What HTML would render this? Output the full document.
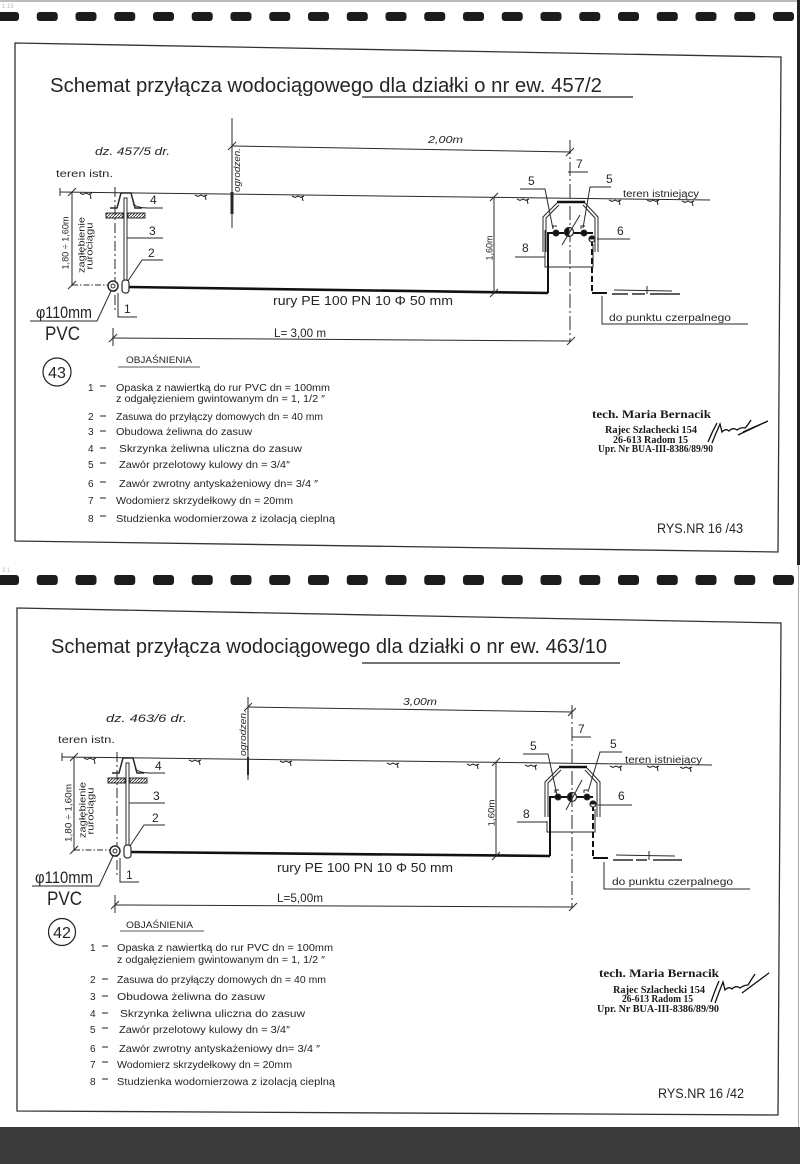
<!DOCTYPE html>
<html><head><meta charset="utf-8">
<style>
html,body{margin:0;padding:0;background:#fff;}
svg{display:block;}
text{font-family:"Liberation Sans",sans-serif;fill:#252525;}
.it{font-style:italic;}
.sf{font-family:"Liberation Serif",serif;font-weight:bold;fill:#1a1a1a;}
</style></head><body>
<svg width="800" height="1164" viewBox="0 0 800 1164" xmlns="http://www.w3.org/2000/svg">
<defs>
<pattern id="h" width="3" height="3" patternUnits="userSpaceOnUse"><path d="M0,3 L3,0" stroke="#222" stroke-width="0.8"/></pattern>
</defs>
<rect width="800" height="1164" fill="#fff"/>
<rect x="0" y="0" width="800" height="2" fill="#bbb"/>
<rect x="797" y="0" width="3" height="565" fill="#222"/>
<rect x="798" y="565" width="1" height="562" fill="#aaa"/>
<rect x="0" y="1127" width="800" height="37" fill="#3a3a3a"/>
<text x="2" y="8" font-size="6" fill="#bbb" style="fill:#bbb">1.15</text>
<text x="2" y="572" font-size="6" style="fill:#bbb">3.1</text>

<!-- dash rows -->
<g fill="#1c1c1c">
<rect x="-2" y="12" width="21" height="9" rx="3"/><rect x="36.75" y="12" width="21" height="9" rx="3"/><rect x="75.5" y="12" width="21" height="9" rx="3"/><rect x="114.25" y="12" width="21" height="9" rx="3"/><rect x="153" y="12" width="21" height="9" rx="3"/><rect x="191.75" y="12" width="21" height="9" rx="3"/><rect x="230.5" y="12" width="21" height="9" rx="3"/><rect x="269.25" y="12" width="21" height="9" rx="3"/><rect x="308" y="12" width="21" height="9" rx="3"/><rect x="346.75" y="12" width="21" height="9" rx="3"/><rect x="385.5" y="12" width="21" height="9" rx="3"/><rect x="424.25" y="12" width="21" height="9" rx="3"/><rect x="463" y="12" width="21" height="9" rx="3"/><rect x="501.75" y="12" width="21" height="9" rx="3"/><rect x="540.5" y="12" width="21" height="9" rx="3"/><rect x="579.25" y="12" width="21" height="9" rx="3"/><rect x="618" y="12" width="21" height="9" rx="3"/><rect x="656.75" y="12" width="21" height="9" rx="3"/><rect x="695.5" y="12" width="21" height="9" rx="3"/><rect x="734.25" y="12" width="21" height="9" rx="3"/><rect x="773" y="12" width="21" height="9" rx="3"/>
<rect x="-2" y="575" width="21" height="10" rx="3"/><rect x="36.75" y="575" width="21" height="10" rx="3"/><rect x="75.5" y="575" width="21" height="10" rx="3"/><rect x="114.25" y="575" width="21" height="10" rx="3"/><rect x="153" y="575" width="21" height="10" rx="3"/><rect x="191.75" y="575" width="21" height="10" rx="3"/><rect x="230.5" y="575" width="21" height="10" rx="3"/><rect x="269.25" y="575" width="21" height="10" rx="3"/><rect x="308" y="575" width="21" height="10" rx="3"/><rect x="346.75" y="575" width="21" height="10" rx="3"/><rect x="385.5" y="575" width="21" height="10" rx="3"/><rect x="424.25" y="575" width="21" height="10" rx="3"/><rect x="463" y="575" width="21" height="10" rx="3"/><rect x="501.75" y="575" width="21" height="10" rx="3"/><rect x="540.5" y="575" width="21" height="10" rx="3"/><rect x="579.25" y="575" width="21" height="10" rx="3"/><rect x="618" y="575" width="21" height="10" rx="3"/><rect x="656.75" y="575" width="21" height="10" rx="3"/><rect x="695.5" y="575" width="21" height="10" rx="3"/><rect x="734.25" y="575" width="21" height="10" rx="3"/><rect x="773" y="575" width="21" height="10" rx="3"/>
</g>

<!-- frames -->
<path d="M15,43 L781,57 L778,552 L15,541 Z" fill="none" stroke="#333" stroke-width="1.3"/>
<path d="M17,608 L781,623 L778,1115 L17,1111 Z" fill="none" stroke="#333" stroke-width="1.3"/>

<!-- ============ SECTION 1 ============ -->
<text x="50" y="92" font-size="20" textLength="552" lengthAdjust="spacingAndGlyphs">Schemat przyłącza wodociągowego dla działki o nr ew. 457/2</text>
<path d="M362,97 L633,97" stroke="#222" stroke-width="1.2"/>

<g stroke="#2a2a2a" fill="none" stroke-width="1">
<path d="M232,118 L232,228"/>
<path d="M232,192 L232,214" stroke-width="3"/>
<path d="M232,146 L571,152"/>
<path d="M228,150 L236,142"/>
</g>

<g id="s1">
<g stroke="#2a2a2a" fill="none" stroke-width="1">
<path d="M60,192 L710,200"/>
<path d="M60,188 L60,196"/>
<path d="M72,192 L72,286"/>
<path d="M68,196 L76,188 M68,289 L76,281"/>
<path d="M72,285 L110,285" stroke-dasharray="6,2,1.5,2"/>
<path d="M566,156 L574,148"/>
<path d="M570,140 L570,342" stroke-dasharray="14,3,2,3"/>
<path d="M110,208 L117,208 L121,193 L131,193 L135,208 L142,208" stroke-width="1.5"/>
<rect x="106" y="213" width="17" height="5" fill="url(#h)"/>
<rect x="128" y="213" width="17" height="5" fill="url(#h)"/>
<rect x="124" y="198" width="3" height="83" fill="#fff"/>
<path d="M133,204 Q138,208 148,208 L163,208"/>
<path d="M127,238 L163,238"/>
<path d="M128,281 L142,260 L163,260"/>
<path d="M115,187 L115,310" stroke-dasharray="10,3,2,3"/>
<path d="M129,287 L548,293" stroke-width="2.6" stroke="#111"/>
<circle cx="113" cy="286" r="5" stroke-width="1.5" fill="#fff"/>
<circle cx="113" cy="286" r="2"/>
<rect x="122" y="280" width="7" height="13" rx="3" fill="#fff" stroke-width="1.2"/>
<path d="M118,293 L118,317 L137,317"/>
<path d="M30,321 L97,321 L111,291"/>
<path d="M113,338 L571,341"/>
<path d="M113,328 L113,346 M109,342 L117,334 M567,345 L575,337"/>
<path d="M494,197 L494,294"/>
<path d="M490,201 L498,193 M490,297 L498,289"/>
<!-- well -->
<path d="M557,202 L585,202" stroke-width="2.6" stroke="#111"/>
<path d="M557,203 L543,217 L543,252 M559,205 L546,218 L546,252"/>
<path d="M585,203 L598,217 L598,252 M583,205 L595,218 L595,252"/>
<path d="M545,230 L545,267 L593,267 L593,244"/>
<path d="M548,293 L548,233 L593,233" stroke-width="2" stroke="#111"/>
<path d="M592,240 L592,293" stroke-width="2" stroke="#111" stroke-dasharray="6,3"/>
<path d="M592,293 L607,293" stroke-width="2" stroke="#111"/>
<path d="M612,294 L628,294 M632,294 L645,294 M650,294 L680,294" stroke-width="1.5"/>
<path d="M614,290 L672,291 M647,286 L647,294"/>
<circle cx="556" cy="233" r="3" fill="#111"/>
<circle cx="584" cy="233" r="3" fill="#111"/>
<path d="M553,229 L553,226 L557,226 M581,229 L581,226 L585,226"/>
<circle cx="569" cy="232" r="4.5" fill="#fff" stroke-width="1.2"/>
<path d="M569,227.5 A4.5,4.5 0 0 0 569,236.5 Z" fill="#111"/>
<path d="M562,245 L580,215"/>
<circle cx="592" cy="239" r="3" fill="#fff" stroke-width="1.2"/>
<path d="M589,239 A3,3 0 0 1 595,239 Z" fill="#111"/>
<path d="M568,172 L588,172"/>
<path d="M520,189 L545,189 L553,229"/>
<path d="M611,187 L590,187 L583,228"/>
<path d="M597,239 L630,239"/>
<path d="M515,257 L545,257"/>
<path d="M602,296 L602,324 L748,324"/>
</g>
</g>
<!-- grass s1 -->
<g stroke="#222" fill="none" stroke-width="1">
<path d="M80,193 l3,1.5 l3,-1.5 l3,1.5 l3,-1.5 M90,194 l1,5"/>
<path d="M195,195 l3,1.5 l3,-1.5 l3,1.5 l3,-1.5 M205,195 l1,5"/>
<path d="M292,196 l3,1.5 l3,-1.5 l3,1.5 l3,-1.5 M302,196 l1,5"/>
<path d="M517,199 l3,1.5 l3,-1.5 l3,1.5 l3,-1.5 M527,199 l1,5"/>
<path d="M609,200 l3,1.5 l3,-1.5 l3,1.5 l3,-1.5 M619,200 l1,5"/>
<path d="M647,200 l3,1.5 l3,-1.5 l3,1.5 l3,-1.5 M657,200 l1,5"/>
<path d="M682,201 l3,1.5 l3,-1.5 l3,1.5 l3,-1.5 M692,201 l1,5"/>
</g>

<text class="it" x="95" y="155" font-size="11" textLength="75" lengthAdjust="spacingAndGlyphs">dz. 457/5 dr.</text>
<text x="56" y="177" font-size="10" textLength="57" lengthAdjust="spacingAndGlyphs">teren istn.</text>
<text transform="translate(68.5,243) rotate(-90)" text-anchor="middle" font-size="9" textLength="53" lengthAdjust="spacingAndGlyphs">1,80 ÷ 1,60m</text>
<text transform="translate(84.5,245) rotate(-90)" text-anchor="middle" font-size="9.5" textLength="56" lengthAdjust="spacingAndGlyphs">zagłębienie</text>
<text transform="translate(92.5,246) rotate(-90)" text-anchor="middle" font-size="9.5" textLength="47" lengthAdjust="spacingAndGlyphs">rurociągu</text>
<text class="it" transform="translate(240,170) rotate(-90)" text-anchor="middle" font-size="9" textLength="44" lengthAdjust="spacingAndGlyphs">ogrodzen.</text>
<text class="it" x="428" y="143" font-size="10" textLength="35" lengthAdjust="spacingAndGlyphs">2,00m</text>
<text x="150" y="204" font-size="12">4</text>
<text x="149" y="235" font-size="12">3</text>
<text x="148" y="257" font-size="12">2</text>
<text x="124" y="313" font-size="12">1</text>
<text x="36" y="318" font-size="17" textLength="56" lengthAdjust="spacingAndGlyphs">φ110mm</text>
<text x="45" y="340" font-size="19" textLength="35" lengthAdjust="spacingAndGlyphs">PVC</text>
<text x="273" y="305" font-size="12.5" textLength="180" lengthAdjust="spacingAndGlyphs">rury PE 100 PN 10  Φ  50 mm</text>
<text x="274" y="337" font-size="12" textLength="52" lengthAdjust="spacingAndGlyphs">L= 3,00 m</text>
<text transform="translate(492.5,248) rotate(-90)" text-anchor="middle" font-size="9" textLength="25" lengthAdjust="spacingAndGlyphs">1,60m</text>
<text x="576" y="168" font-size="12">7</text>
<text x="528" y="185" font-size="12">5</text>
<text x="606" y="183" font-size="12">5</text>
<text x="623" y="197" font-size="10" textLength="76" lengthAdjust="spacingAndGlyphs">teren istniejący</text>
<text x="617" y="235" font-size="12">6</text>
<text x="522" y="252" font-size="12">8</text>
<text x="609" y="321" font-size="10" textLength="122" lengthAdjust="spacingAndGlyphs">do punktu czerpalnego</text>

<circle cx="57" cy="372" r="14" fill="none" stroke="#222" stroke-width="1.2"/>
<text x="57" y="378" font-size="16" text-anchor="middle">43</text>
<text x="126" y="363" font-size="9" textLength="66" lengthAdjust="spacingAndGlyphs">OBJAŚNIENIA</text>
<path d="M118,367 L200,367" stroke="#222" stroke-width="0.8"/>
<g font-size="10">
<text x="88" y="391">1</text><text x="116" y="391" textLength="214" lengthAdjust="spacingAndGlyphs">Opaska z nawiertką do rur  PVC  dn = 100mm</text>
<text x="116" y="402" textLength="209" lengthAdjust="spacingAndGlyphs">z odgałęzieniem gwintowanym  dn = 1, 1/2 ″</text>
<text x="88" y="420">2</text><text x="116" y="420" textLength="207" lengthAdjust="spacingAndGlyphs">Zasuwa do przyłączy domowych  dn = 40 mm</text>
<text x="88" y="435">3</text><text x="116" y="435" textLength="136" lengthAdjust="spacingAndGlyphs">Obudowa żeliwna do zasuw</text>
<text x="88" y="452">4</text><text x="119" y="452" textLength="183" lengthAdjust="spacingAndGlyphs">Skrzynka żeliwna uliczna do zasuw</text>
<text x="88" y="468">5</text><text x="119" y="468" textLength="171" lengthAdjust="spacingAndGlyphs">Zawór przelotowy kulowy  dn = 3/4″</text>
<text x="88" y="487">6</text><text x="119" y="487" textLength="199" lengthAdjust="spacingAndGlyphs">Zawór zwrotny antyskażeniowy dn= 3/4 ″</text>
<text x="88" y="504">7</text><text x="116" y="504" textLength="177" lengthAdjust="spacingAndGlyphs">Wodomierz skrzydełkowy dn = 20mm</text>
<text x="88" y="522">8</text><text x="116" y="522" textLength="219" lengthAdjust="spacingAndGlyphs">Studzienka wodomierzowa z izolacją cieplną</text>
</g>
<path d="M100,386 L106,386 M100,416 L106,416 M100,431 L106,431 M100,448 L106,448 M100,463 L106,463 M100,482 L106,482 M100,498 L106,498 M100,516 L106,516" stroke="#222" stroke-width="1"/>

<text class="sf" x="592" y="418" font-size="12" textLength="119" lengthAdjust="spacingAndGlyphs">tech. Maria Bernacik</text>
<text class="sf" x="605" y="433" font-size="10" textLength="92" lengthAdjust="spacingAndGlyphs">Rajec Szlachecki 154</text>
<text class="sf" x="613" y="443" font-size="10" textLength="75" lengthAdjust="spacingAndGlyphs">26-613 Radom 15</text>
<text class="sf" x="598" y="452" font-size="10" textLength="115" lengthAdjust="spacingAndGlyphs">Upr. Nr BUA-III-8386/89/90</text>
<path d="M708,442 Q712,432 717,423 M712,443 Q716,433 720,424 L722,432 Q726,428 729,431 Q733,427 737,430 Q741,427 745,428 Q748,425 751,420 M738,435 L768,421 L743,432" fill="none" stroke="#111" stroke-width="1.3"/>
<text x="657" y="533" font-size="14" textLength="86" lengthAdjust="spacingAndGlyphs">RYS.NR 16 /43</text>

<!-- ============ SECTION 2 ============ -->
<text x="51" y="653" font-size="20" textLength="556" lengthAdjust="spacingAndGlyphs">Schemat przyłącza wodociągowego dla działki o nr ew. 463/10</text>
<path d="M362,663 L620,663" stroke="#222" stroke-width="1.2"/>

<g stroke="#2a2a2a" fill="none" stroke-width="1">
<path d="M248,697 L248,780"/>
<path d="M248,757 L248,775" stroke-width="2"/>
<path d="M248,707 L572,712"/>
<path d="M244,711 L252,703"/>
</g>

<g transform="translate(2,565)">
<g stroke="#2a2a2a" fill="none" stroke-width="1">
<path d="M60,192 L710,200"/>
<path d="M60,188 L60,196"/>
<path d="M72,192 L72,286"/>
<path d="M68,196 L76,188 M68,289 L76,281"/>
<path d="M72,285 L110,285" stroke-dasharray="6,2,1.5,2"/>
<path d="M566,151 L574,143"/>
<path d="M570,140 L570,342" stroke-dasharray="14,3,2,3"/>
<path d="M110,208 L117,208 L121,193 L131,193 L135,208 L142,208" stroke-width="1.5"/>
<rect x="106" y="213" width="17" height="5" fill="url(#h)"/>
<rect x="128" y="213" width="17" height="5" fill="url(#h)"/>
<rect x="124" y="198" width="3" height="83" fill="#fff"/>
<path d="M133,204 Q138,208 148,208 L163,208"/>
<path d="M127,238 L163,238"/>
<path d="M128,281 L142,260 L163,260"/>
<path d="M115,187 L115,310" stroke-dasharray="10,3,2,3"/>
<path d="M129,287 L548,291" stroke-width="2.6" stroke="#111"/>
<circle cx="113" cy="286" r="5" stroke-width="1.5" fill="#fff"/>
<circle cx="113" cy="286" r="2"/>
<rect x="122" y="280" width="7" height="13" rx="3" fill="#fff" stroke-width="1.2"/>
<path d="M118,293 L118,317 L137,317"/>
<path d="M30,321 L97,321 L111,291"/>
<path d="M113,340 L571,342"/>
<path d="M113,330 L113,348 M109,344 L117,336 M567,346 L575,338"/>
<path d="M494,197 L494,292"/>
<path d="M490,201 L498,193 M490,295 L498,287"/>
<path d="M557,202 L585,202" stroke-width="2.6" stroke="#111"/>
<path d="M557,203 L543,217 L543,252 M559,205 L546,218 L546,252"/>
<path d="M585,203 L598,217 L598,252 M583,205 L595,218 L595,252"/>
<path d="M545,256 L545,267 L593,267 L593,244"/>
<path d="M548,291 L548,232 L591,232" stroke-width="2" stroke="#111"/>
<path d="M591,240 L591,293" stroke-width="2" stroke="#111" stroke-dasharray="6,3"/>
<path d="M591,293 L606,293" stroke-width="2" stroke="#111"/>
<path d="M611,295 L631,295 M634,295 L645,295 M651,295 L680,295" stroke-width="1.5"/>
<path d="M614,290 L673,291 M647,286 L647,295"/>
<circle cx="556" cy="232" r="3" fill="#111"/>
<circle cx="585" cy="232" r="3" fill="#111"/>
<path d="M553,228 L553,225 L557,225 M582,228 L582,225 L586,225"/>
<circle cx="570" cy="232" r="4.5" fill="#fff" stroke-width="1.2"/>
<path d="M570,227.5 A4.5,4.5 0 0 0 570,236.5 Z" fill="#111"/>
<path d="M564,245 L580,215"/>
<circle cx="591" cy="239" r="3" fill="#fff" stroke-width="1.2"/>
<path d="M588,239 A3,3 0 0 1 594,239 Z" fill="#111"/>
<path d="M570,172 L589,172"/>
<path d="M521,189 L546,189 L555,230"/>
<path d="M620,187 L598,187 L586,227"/>
<path d="M596,240 L630,240"/>
<path d="M515,257 L545,257"/>
<path d="M602,297 L602,324 L748,324"/>
</g>
</g>
<!-- grass s2 -->
<g stroke="#222" fill="none" stroke-width="1">
<path d="M84,758 l3,1.5 l3,-1.5 l3,1.5 l3,-1.5 M94,759 l1,5"/>
<path d="M189,760 l3,1.5 l3,-1.5 l3,1.5 l3,-1.5 M199,760 l1,5"/>
<path d="M280,761 l3,1.5 l3,-1.5 l3,1.5 l3,-1.5 M290,761 l1,5"/>
<path d="M387,763 l3,1.5 l3,-1.5 l3,1.5 l3,-1.5 M397,763 l1,5"/>
<path d="M467,764 l3,1.5 l3,-1.5 l3,1.5 l3,-1.5 M477,764 l1,5"/>
<path d="M525,765 l3,1.5 l3,-1.5 l3,1.5 l3,-1.5 M535,765 l1,5"/>
<path d="M610,766 l3,1.5 l3,-1.5 l3,1.5 l3,-1.5 M620,766 l1,5"/>
<path d="M647,766 l3,1.5 l3,-1.5 l3,1.5 l3,-1.5 M657,766 l1,5"/>
<path d="M680,767 l3,1.5 l3,-1.5 l3,1.5 l3,-1.5 M690,767 l1,5"/>
</g>

<text class="it" x="106" y="722" font-size="11" textLength="81" lengthAdjust="spacingAndGlyphs">dz. 463/6 dr.</text>
<text x="58" y="743" font-size="10" textLength="57" lengthAdjust="spacingAndGlyphs">teren istn.</text>
<text transform="translate(71.5,813) rotate(-90)" text-anchor="middle" font-size="9" textLength="58" lengthAdjust="spacingAndGlyphs">1,80 ÷ 1,60m</text>
<text transform="translate(85.5,810) rotate(-90)" text-anchor="middle" font-size="9.5" textLength="56" lengthAdjust="spacingAndGlyphs">zagłębienie</text>
<text transform="translate(93.5,811) rotate(-90)" text-anchor="middle" font-size="9.5" textLength="47" lengthAdjust="spacingAndGlyphs">rurociągu</text>
<text class="it" transform="translate(246,733) rotate(-90)" text-anchor="middle" font-size="9" textLength="46" lengthAdjust="spacingAndGlyphs">ogrodzen.</text>
<text class="it" x="403" y="705" font-size="10" textLength="34" lengthAdjust="spacingAndGlyphs">3,00m</text>
<text x="155" y="770" font-size="12">4</text>
<text x="153" y="800" font-size="12">3</text>
<text x="152" y="822" font-size="12">2</text>
<text x="126" y="879" font-size="12">1</text>
<text x="35" y="883" font-size="17" textLength="58" lengthAdjust="spacingAndGlyphs">φ110mm</text>
<text x="47" y="905" font-size="19" textLength="35" lengthAdjust="spacingAndGlyphs">PVC</text>
<text x="277" y="872" font-size="12.5" textLength="176" lengthAdjust="spacingAndGlyphs">rury PE 100 PN 10  Φ  50 mm</text>
<text x="277" y="902" font-size="12" textLength="46" lengthAdjust="spacingAndGlyphs">L=5,00m</text>
<text transform="translate(494.5,813) rotate(-90)" text-anchor="middle" font-size="9" textLength="27" lengthAdjust="spacingAndGlyphs">1,60m</text>
<text x="578" y="733" font-size="12">7</text>
<text x="530" y="750" font-size="12">5</text>
<text x="610" y="748" font-size="12">5</text>
<text x="625" y="763" font-size="10" textLength="77" lengthAdjust="spacingAndGlyphs">teren istniejący</text>
<text x="618" y="800" font-size="12">6</text>
<text x="523" y="818" font-size="12">8</text>
<text x="612" y="885" font-size="10" textLength="121" lengthAdjust="spacingAndGlyphs">do punktu czerpalnego</text>

<circle cx="62" cy="932" r="13.5" fill="none" stroke="#222" stroke-width="1.2"/>
<text x="62" y="938" font-size="16" text-anchor="middle">42</text>
<text x="126" y="928" font-size="9" textLength="67" lengthAdjust="spacingAndGlyphs">OBJAŚNIENIA</text>
<path d="M120,931 L204,931" stroke="#222" stroke-width="0.8"/>
<g font-size="10">
<text x="90" y="951">1</text><text x="117" y="951" textLength="216" lengthAdjust="spacingAndGlyphs">Opaska z nawiertką do rur  PVC  dn = 100mm</text>
<text x="117" y="963" textLength="208" lengthAdjust="spacingAndGlyphs">z odgałęzieniem gwintowanym  dn = 1, 1/2 ″</text>
<text x="90" y="983">2</text><text x="117" y="983" textLength="209" lengthAdjust="spacingAndGlyphs">Zasuwa do przyłączy domowych  dn = 40 mm</text>
<text x="90" y="1000">3</text><text x="117" y="1000" textLength="148" lengthAdjust="spacingAndGlyphs">Obudowa żeliwna do zasuw</text>
<text x="90" y="1017">4</text><text x="120" y="1017" textLength="185" lengthAdjust="spacingAndGlyphs">Skrzynka żeliwna uliczna do zasuw</text>
<text x="90" y="1033">5</text><text x="119" y="1033" textLength="171" lengthAdjust="spacingAndGlyphs">Zawór przelotowy kulowy  dn = 3/4″</text>
<text x="90" y="1052">6</text><text x="119" y="1052" textLength="201" lengthAdjust="spacingAndGlyphs">Zawór zwrotny antyskażeniowy dn= 3/4 ″</text>
<text x="90" y="1068">7</text><text x="117" y="1068" textLength="175" lengthAdjust="spacingAndGlyphs">Wodomierz skrzydełkowy dn = 20mm</text>
<text x="90" y="1085">8</text><text x="117" y="1085" textLength="218" lengthAdjust="spacingAndGlyphs">Studzienka wodomierzowa z izolacją cieplną</text>
</g>
<path d="M102,946 L108,946 M102,979 L108,979 M102,996 L108,996 M102,1013 L108,1013 M102,1028 L108,1028 M102,1047 L108,1047 M102,1062 L108,1062 M102,1079 L108,1079" stroke="#222" stroke-width="1"/>

<text class="sf" x="599" y="977" font-size="12" textLength="120" lengthAdjust="spacingAndGlyphs">tech. Maria Bernacik</text>
<text class="sf" x="613" y="993" font-size="10" textLength="92" lengthAdjust="spacingAndGlyphs">Rajec Szlachecki 154</text>
<text class="sf" x="622" y="1002" font-size="10" textLength="71" lengthAdjust="spacingAndGlyphs">26-613 Radom 15</text>
<text class="sf" x="597" y="1012" font-size="10" textLength="122" lengthAdjust="spacingAndGlyphs">Upr. Nr BUA-III-8386/89/90</text>
<path d="M711,1002 Q715,990 719,981 M715,1003 Q719,992 723,982 L725,990 Q729,986 732,989 Q736,985 740,988 Q744,985 748,985 Q751,980 755,974 M742,993 L769,973 L746,990" fill="none" stroke="#111" stroke-width="1.3"/>
<text x="658" y="1098" font-size="14" textLength="86" lengthAdjust="spacingAndGlyphs">RYS.NR 16 /42</text>
</svg>
</body></html>
